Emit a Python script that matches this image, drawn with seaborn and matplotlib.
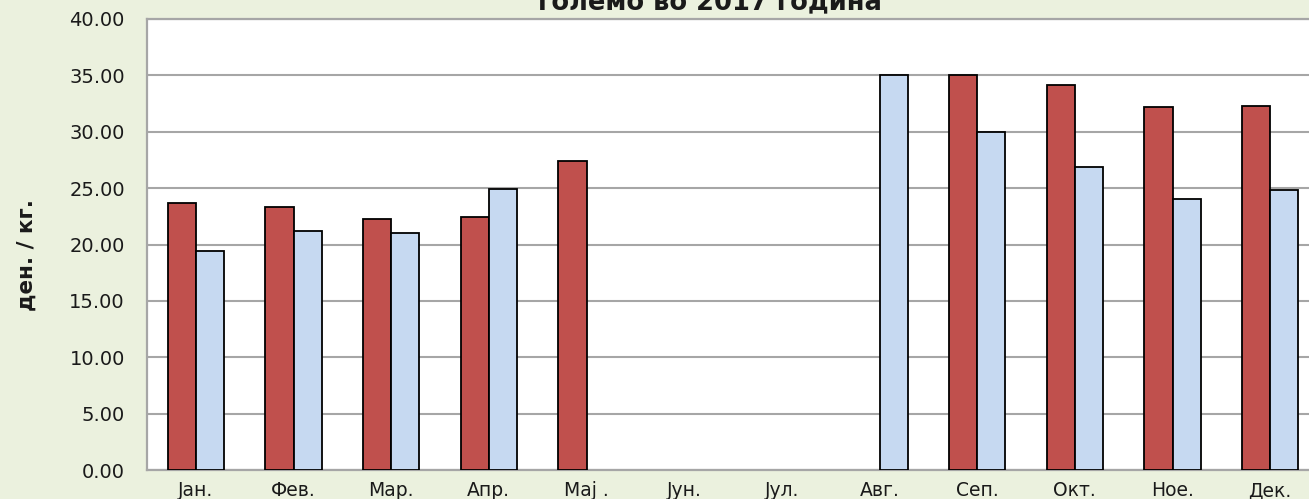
import numpy as np
import pandas as pd
import matplotlib
matplotlib.use('Agg')
import matplotlib.pyplot as plt
import seaborn as sns

# ─── Data ─────────────────────────────────────────────────────────────────────
months = ['Јан.', 'Фев.', 'Мар.', 'Апр.', 'Мај .', 'Јун.',
          'Јул.', 'Авг.', 'Сеп.', 'Окт.', 'Ное.', 'Дек.']
series_names = ['Серија 1', 'Серија 2']
series_1 = [23.65, 23.30, 22.30, 22.47, 27.38, np.nan,
            np.nan, np.nan, 35.00, 34.15, 32.17, 32.32]
series_2 = [19.40, 21.20, 21.05, 24.95, np.nan, np.nan,
            np.nan, 35.00, 30.00, 26.90, 24.00, 24.83]
y_ticks = [0, 5, 10, 15, 20, 25, 30, 35, 40]

df = pd.DataFrame({
    'month': months * 2,
    'series': [series_names[0]] * 12 + [series_names[1]] * 12,
    'value': series_1 + series_2,
})

# ─── Style ────────────────────────────────────────────────────────────────────
sns.set_style('white')
plt.rcParams['font.family'] = ['DejaVu Sans']

BG = '#EBF1DE'
GRID = '#A6A6A6'
TXT = '#1A1A1A'

fig = plt.figure(figsize=(13.09, 4.99), dpi=100, facecolor=BG)
ax = fig.add_axes([147 / 1309, 1 - 470 / 499, (1319 - 147) / 1309, 451 / 499])
ax.set_facecolor('white')

sns.barplot(data=df, x='month', y='value', hue='series', order=months,
            hue_order=series_names, palette=['#C0504D', '#C6D9F1'],
            saturation=1, width=0.58, gap=0, edgecolor='black',
            linewidth=1.3, legend=False, ax=ax, zorder=3)

ax.set_ylim(0, 40)
ax.set_xlim(-0.5, 11.5)
ax.set_yticks(y_ticks)
ax.set_yticklabels([f'{v:.2f}' for v in y_ticks], fontsize=14, color=TXT)
ax.yaxis.grid(True, color=GRID, linewidth=1.5, zorder=0)
ax.set_axisbelow(True)
ax.tick_params(axis='y', length=0, pad=16)

# category labels with separators between them
ax.set_xticks(range(12))
ax.set_xticklabels(months, fontsize=13.5, color=TXT)
ax.tick_params(axis='x', which='major', length=0, pad=8)
ax.set_xticks(np.arange(-0.5, 12, 1), minor=True)
ax.tick_params(axis='x', which='minor', length=22, width=1.2, color=GRID,
               direction='out')

for side in ['left', 'top', 'bottom']:
    ax.spines[side].set_visible(True)
    ax.spines[side].set_color(GRID)
    ax.spines[side].set_linewidth(1.6)
ax.spines['right'].set_visible(False)

ax.set_xlabel('')
ax.set_ylabel('')
fig.text(27 / 1309, 1 - 255 / 499, 'ден. / кг.', rotation=90, fontsize=15.5,
         fontweight='bold', ha='center', va='center', color=TXT)

# title is cut off at the top of the image
fig.text(710 / 1309, 1 - 9 / 499, 'големо во 2017 година', fontsize=18.5,
         fontweight='bold', ha='center', va='baseline', color=TXT)

fig.savefig('out.png', dpi=100, facecolor=BG)
